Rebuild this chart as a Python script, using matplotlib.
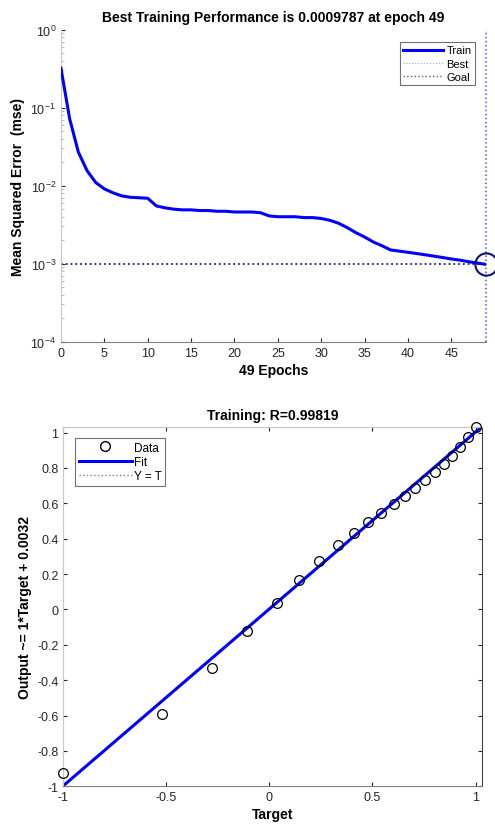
import numpy as np
import matplotlib
matplotlib.use('Agg')
import matplotlib.pyplot as plt
from matplotlib.lines import Line2D

plt.rcParams['font.family'] = ['Liberation Sans', 'DejaVu Sans']

# === Training performance (mse per epoch) ===
epochs = list(range(0, 50))
train_mse = [0.32, 0.072, 0.027, 0.0156, 0.011, 0.0091, 0.0081, 0.0074, 0.0071, 0.0070,
             0.0069, 0.0055, 0.0052, 0.0050, 0.0049, 0.0049, 0.0048, 0.0048, 0.0047, 0.0047,
             0.0046, 0.0046, 0.0046, 0.0045, 0.0041, 0.0040, 0.0040, 0.0040, 0.0039, 0.0039,
             0.0038, 0.0036, 0.0033, 0.0029, 0.0025, 0.0022, 0.0019, 0.0017, 0.0015, 0.00145,
             0.0014, 0.00135, 0.0013, 0.00125, 0.0012, 0.00115, 0.00111, 0.00106, 0.00102, 0.0009787]
best_epoch = 49
best_perf = 0.0009787

# === Regression data ===
targets = [-1.0, -0.52, -0.279, -0.107, 0.036, 0.145, 0.242, 0.331, 0.411, 0.476, 0.540,
           0.603, 0.657, 0.705, 0.757, 0.802, 0.845, 0.885, 0.926, 0.963, 1.0]
outputs = [-0.923, -0.593, -0.331, -0.124, 0.038, 0.169, 0.273, 0.362, 0.433, 0.493, 0.546,
           0.597, 0.640, 0.687, 0.731, 0.776, 0.825, 0.870, 0.919, 0.976, 1.03]
fit_slope = 1.0
fit_intercept = 0.0032
R_value = 0.99819

tick_col = '#262626'
spine_col = '#808080'

fig = plt.figure(figsize=(4.95, 8.29), dpi=100)

# --- Top: performance plot ---
ax1 = fig.add_axes([0.1232, 0.5866, 0.8586, 0.3764])
ax1.semilogy(epochs, train_mse, color='#0000ff', lw=2.2, zorder=3)
ax1.plot([best_epoch, best_epoch], [1e-4, 1e0], ls=':', color='#5050f0', lw=1.1, clip_on=False)
ax1.plot([0, best_epoch], [best_perf, best_perf], ls=':', color='#1a1a9c', lw=1.3)
ax1.plot(best_epoch, best_perf, 'o', mfc='none', mec='#10107a', ms=16, mew=1.5,
         zorder=4, clip_on=False)
ax1.set_xlim(0, 49)
ax1.set_ylim(1e-4, 1e0)
ax1.set_xticks(range(0, 50, 5))
ax1.spines['top'].set_visible(False)
ax1.spines['right'].set_visible(False)
ax1.spines['left'].set_color('#c8c8c8')
ax1.spines['bottom'].set_color(spine_col)
ax1.tick_params(direction='in', colors=tick_col, labelsize=9, length=3)
ax1.tick_params(which='minor', direction='in', color='#b0b0b0', length=2)
ax1.set_title('Best Training Performance is 0.0009787 at epoch 49',
              fontsize=10, fontweight='bold', pad=6)
ax1.set_xlabel('49 Epochs', fontsize=10, fontweight='bold', labelpad=3)
ax1.set_ylabel('Mean Squared Error  (mse)', fontsize=10, fontweight='bold')
h1 = [Line2D([], [], color='#0000ff', lw=2.2),
      Line2D([], [], color='#a0a0ff', ls=':', lw=0.8),
      Line2D([], [], color='#606060', ls=':', lw=1.0)]
leg1 = ax1.legend(h1, ['Train', 'Best', 'Goal'], loc='upper right', fontsize=8,
                  fancybox=False, edgecolor='#707070', framealpha=1,
                  bbox_to_anchor=(0.974, 0.96), handlelength=3.6, borderpad=0.3,
                  labelspacing=0.3, handletextpad=0.3, borderaxespad=0)
leg1.get_frame().set_linewidth(0.8)

# --- Bottom: regression plot ---
lim = [-1.0, 1.03]
ax2 = fig.add_axes([0.1279, 0.0503, 0.8453, 0.4331])
ax2.plot(lim, lim, ls=':', color='#808080', lw=1.0, zorder=1)
fit_x = np.array(lim)
ax2.plot(fit_x, fit_slope * fit_x + fit_intercept, color='#0000ff', lw=2.2, zorder=2)
ax2.plot(targets, outputs, 'o', mfc='none', mec='black', ms=7, mew=0.9, zorder=3,
         clip_on=False)
ax2.set_xlim(lim)
ax2.set_ylim(lim)
ax2.set_xticks([-1, -0.5, 0, 0.5, 1])
ax2.set_xticklabels(['-1', '-0.5', '0', '0.5', '1'])
ax2.set_yticks([-1, -0.8, -0.6, -0.4, -0.2, 0, 0.2, 0.4, 0.6, 0.8, 1])
ax2.set_yticklabels(['-1', '-0.8', '-0.6', '-0.4', '-0.2', '0', '0.2', '0.4', '0.6', '0.8', '1'])
ax2.spines['top'].set_color('#c8c8c8')
ax2.spines['left'].set_color('#c8c8c8')
ax2.spines['bottom'].set_color(spine_col)
ax2.spines['right'].set_color('#404040')
ax2.tick_params(direction='in', colors=tick_col, labelsize=9, length=3,
                top=True, right=True)
ax2.set_title('Training: R=%.5f' % R_value, fontsize=10, fontweight='bold', pad=6)
ax2.set_xlabel('Target', fontsize=10, fontweight='bold', labelpad=3)
ax2.set_ylabel('Output ~= 1*Target + 0.0032', fontsize=10, fontweight='bold')
h2 = [Line2D([], [], ls='none', marker='o', mfc='none', mec='black', ms=7),
      Line2D([], [], color='#0000ff', lw=2.2),
      Line2D([], [], color='#808080', ls=':', lw=1.0)]
leg2 = ax2.legend(h2, ['Data', 'Fit', 'Y = T'], loc='upper left', fontsize=8.5,
                  fancybox=False, edgecolor='#707070', framealpha=1,
                  bbox_to_anchor=(0.028, 0.97), handlelength=4.5, borderpad=0.3,
                  labelspacing=0.2, handletextpad=0.2, borderaxespad=0)
leg2.get_frame().set_linewidth(0.8)

fig.savefig('out.png', dpi=100)
